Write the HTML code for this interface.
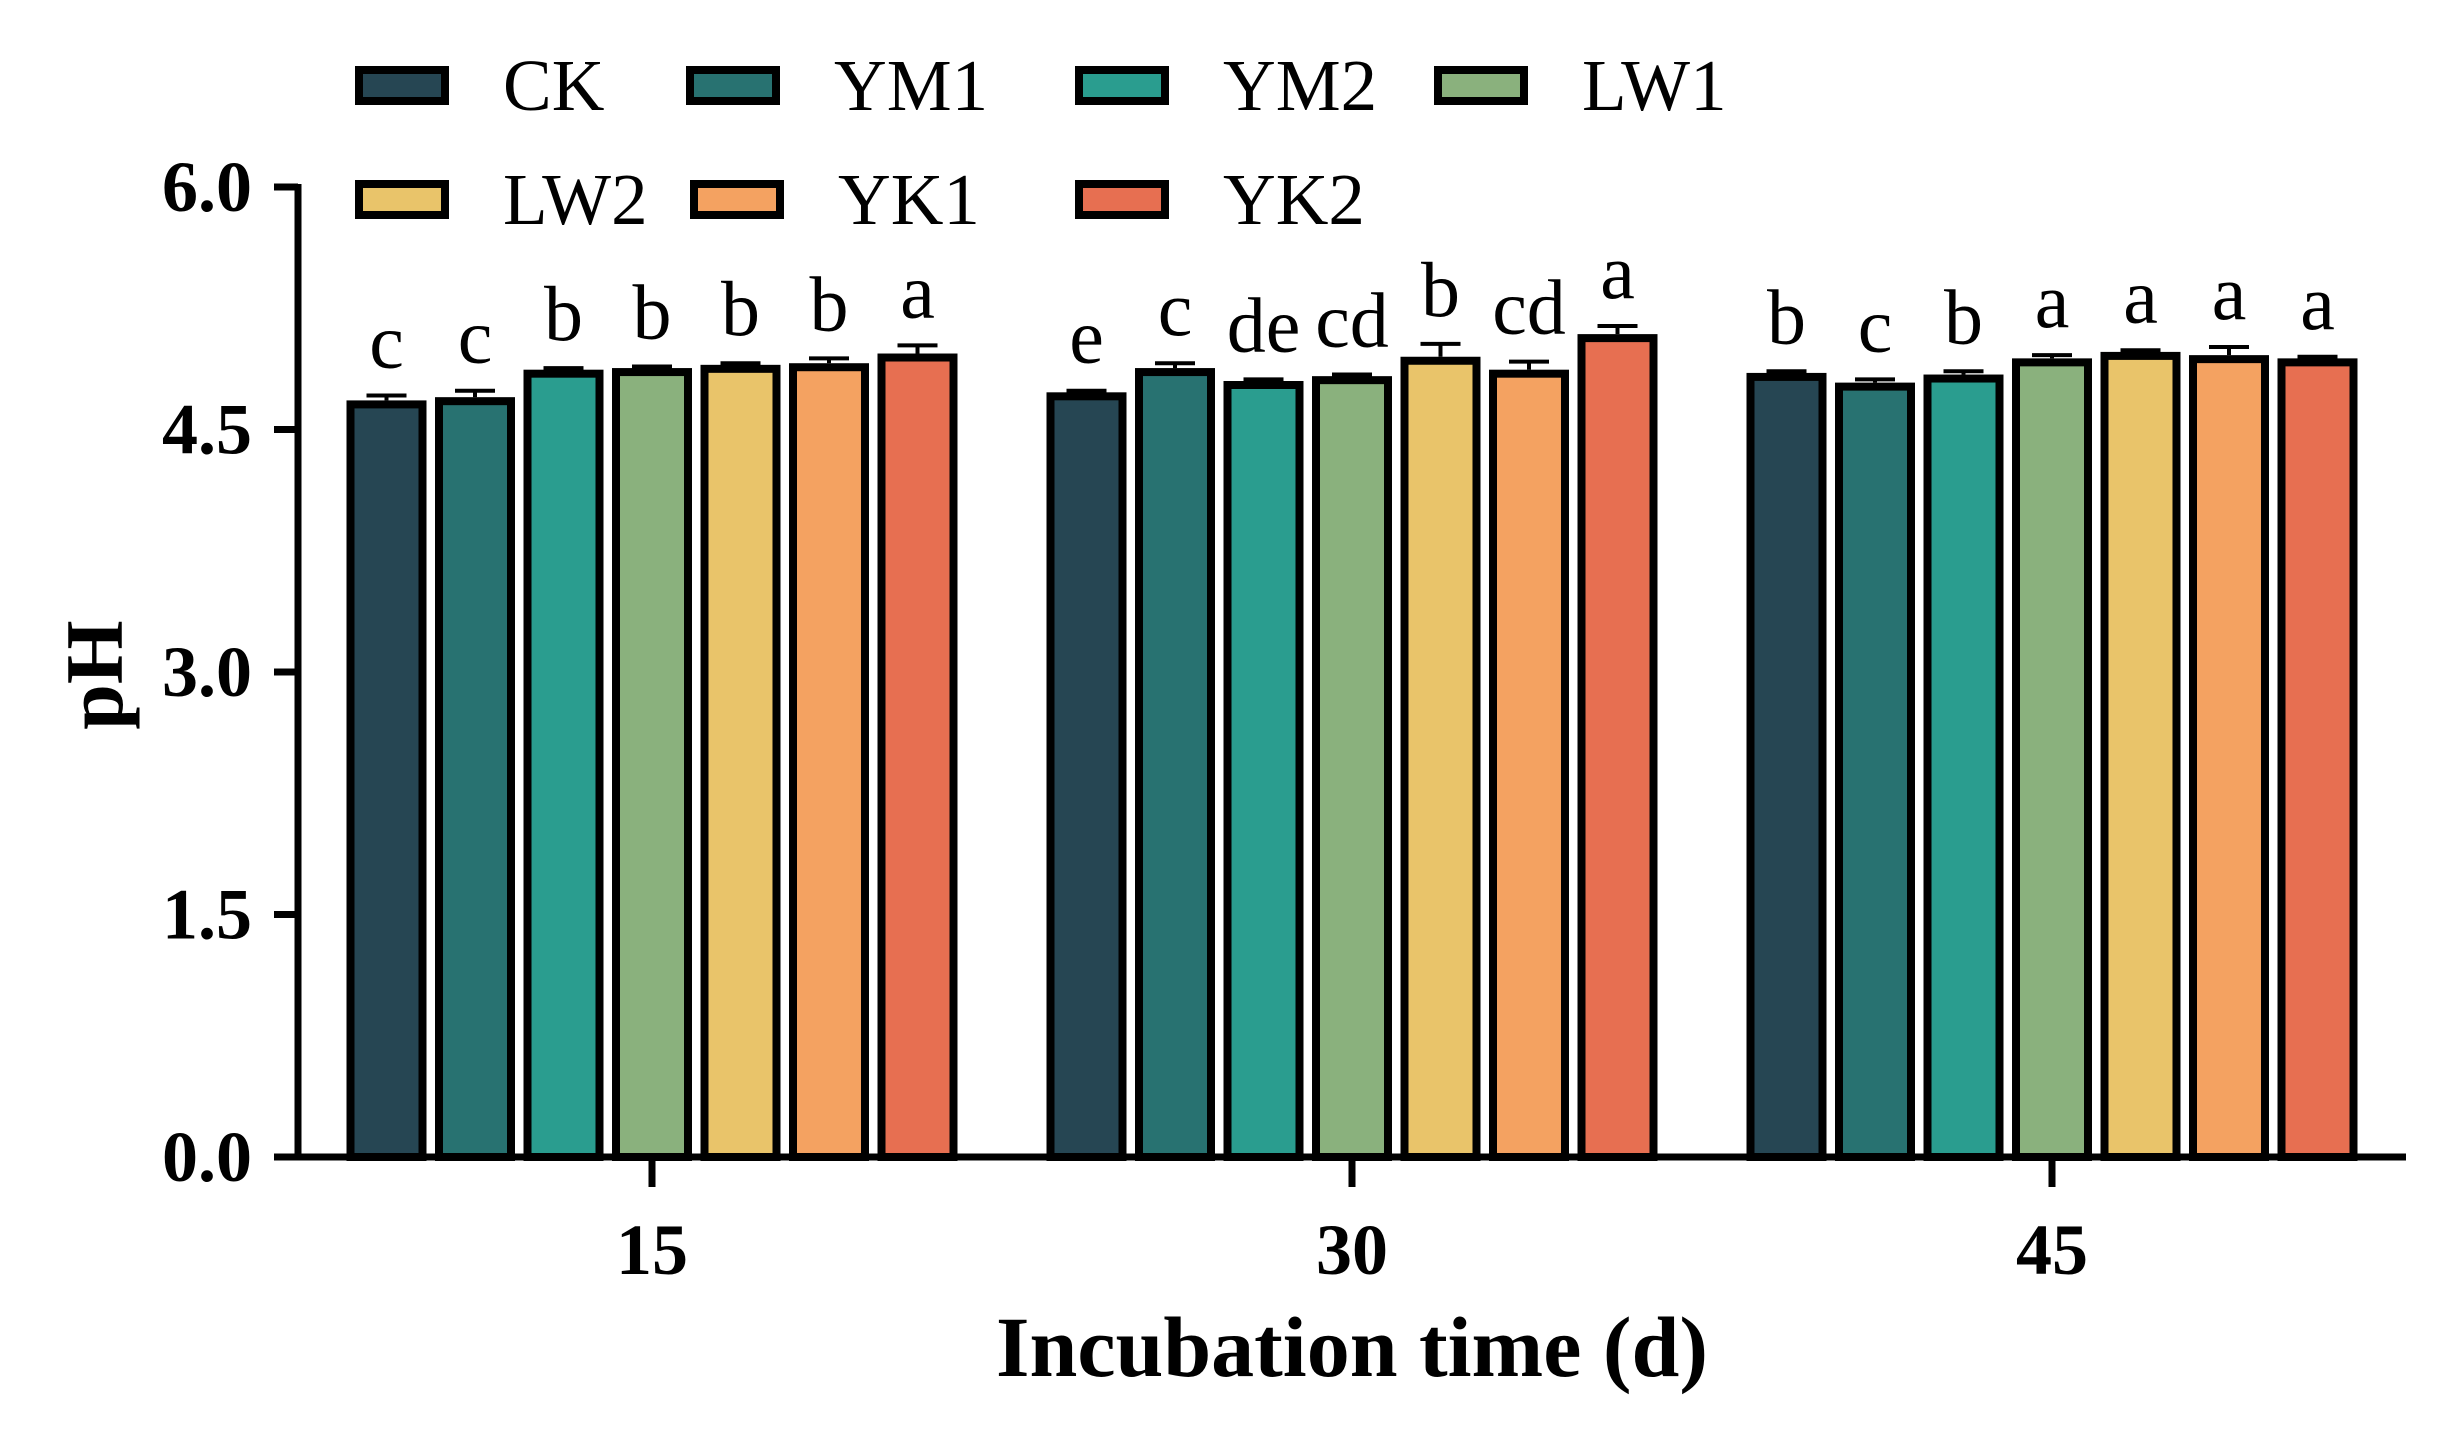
<!DOCTYPE html>
<html><head><meta charset="utf-8"><style>
html,body{margin:0;padding:0;background:#fff;}
svg{display:block;font-family:"Liberation Serif",serif;}
</style></head><body>
<svg id="chart" width="2443" height="1430" viewBox="0 0 2443 1430" xmlns="http://www.w3.org/2000/svg">
<g id="legend"></g>
<g id="axes"></g>
<g id="bars"></g>
<text x="0" y="0" transform="translate(122,675) rotate(-90)" text-anchor="middle" font-size="82" font-weight="bold">pH</text>
<text x="1352" y="1376" text-anchor="middle" font-size="86" font-weight="bold">Incubation time (d)</text>
</svg>
<script>
const categories = ["15","30","45"];
const seriesNames = ["CK","YM1","YM2","LW1","LW2","YK1","YK2"];
const seriesColors = ["#264653","#287271","#2a9d8f","#8ab17d","#e9c46a","#f4a261","#e76f51"];
const ckValues  = [4.68,4.73,4.85];
const ym1Values = [4.70,4.88,4.79];
const ym2Values = [4.87,4.80,4.84];
const lw1Values = [4.88,4.83,4.94];
const lw2Values = [4.90,4.95,4.98];
const yk1Values = [4.91,4.87,4.96];
const yk2Values = [4.97,5.09,4.94];
const ckErr  = [0.03,0.01,0.01];
const ym1Err = [0.04,0.03,0.02];
const ym2Err = [0.01,0.01,0.02];
const lw1Err = [0.01,0.01,0.02];
const lw2Err = [0.01,0.08,0.01];
const yk1Err = [0.03,0.05,0.05];
const yk2Err = [0.05,0.05,0.01];
const ckLetters  = ["c","e","b"];
const ym1Letters = ["c","c","c"];
const ym2Letters = ["b","de","b"];
const lw1Letters = ["b","cd","a"];
const lw2Letters = ["b","b","a"];
const yk1Letters = ["b","cd","a"];
const yk2Letters = ["a","a","a"];
const yTicks = [0,1.5,3.0,4.5,6.0];
const yTickLabels = ["0.0","1.5","3.0","4.5","6.0"];

const values=[ckValues,ym1Values,ym2Values,lw1Values,lw2Values,yk1Values,yk2Values];
const errs=[ckErr,ym1Err,ym2Err,lw1Err,lw2Err,yk1Err,yk2Err];
const letters=[ckLetters,ym1Letters,ym2Letters,lw1Letters,lw2Letters,yk1Letters,yk2Letters];
const NS="http://www.w3.org/2000/svg";
const y0=1157, y6=187, axisX=298, axisEnd=2406;
function yScale(v){return y0-(v/6)*(y0-y6);}
const groupStart=652, groupStep=700, pitch=88.5, barW=80;
function xCenter(ci){return groupStart+ci*groupStep;}
function barX(ci,si){return xCenter(ci)-(seriesNames.length*pitch-(pitch-barW))/2+si*pitch;}
function mk(tag,attrs,parent){const e=document.createElementNS(NS,tag);for(const k in attrs)e.setAttribute(k,attrs[k]);parent.appendChild(e);return e;}

const bars=document.getElementById('bars');
for(let si=0;si<seriesNames.length;si++){
  for(let ci=0;ci<categories.length;ci++){
    const v=values[si][ci], x=barX(ci,si), yt=yScale(v), sw=8;
    const r=mk('rect',{x:x+sw/2,y:yt+sw/2,width:barW-sw,height:y0-yt-sw/2,fill:seriesColors[si],stroke:'#000','stroke-width':sw},bars);
    
    
    const ye=yScale(v+errs[si][ci]), cx=x+barW/2;
    const e1=mk('line',{x1:cx,x2:cx,y1:yt,y2:ye,stroke:'#000','stroke-width':4},bars);
    
    
    const e2=mk('line',{x1:cx-20,x2:cx+20,y1:ye,y2:ye,stroke:'#000','stroke-width':4},bars);
    
    
    const t=mk('text',{x:cx,y:ye-28,'text-anchor':'middle','font-size':78},bars);
    t.textContent=letters[si][ci];
    
    
  }
}
const axes=document.getElementById('axes');
const ya=mk('line',{x1:axisX,x2:axisX,y1:y6-3,y2:y0+3,stroke:'#000','stroke-width':7},axes);


const xa=mk('line',{x1:axisX-3,x2:axisEnd,y1:y0,y2:y0,stroke:'#000','stroke-width':7},axes);


yTicks.forEach((v,i)=>{
  const y=yScale(v);
  const tk=mk('line',{x1:axisX-24,x2:axisX,y1:y,y2:y,stroke:'#000','stroke-width':7},axes);
  
  
  const t=mk('text',{x:axisX-46,y:y+24,'text-anchor':'end','font-size':72,'font-weight':'bold'},axes);
  t.textContent=yTickLabels[i];
  
  
});
categories.forEach((c,ci)=>{
  const x=xCenter(ci);
  const tk=mk('line',{x1:x,x2:x,y1:y0,y2:y0+30,stroke:'#000','stroke-width':7},axes);
  
  
  const t=mk('text',{x:x,y:1274,'text-anchor':'middle','font-size':72,'font-weight':'bold'},axes);
  t.textContent=c;
  
  
});
const legend=document.getElementById('legend');
const legPos=[[355,66],[686,66],[1075,66],[1434,66],[355,180],[690,180],[1075,180]];
seriesNames.forEach((n,i)=>{
  const [lx,ly]=legPos[i];
  const g=mk('g',{},legend);
  
  
  mk('rect',{x:lx+4,y:ly+4,width:86,height:31,fill:seriesColors[i],stroke:'#000','stroke-width':8},g);
  const t=mk('text',{x:lx+148,y:ly+44,'font-size':73},g);
  t.textContent=n;
});
</script>
</body></html>
